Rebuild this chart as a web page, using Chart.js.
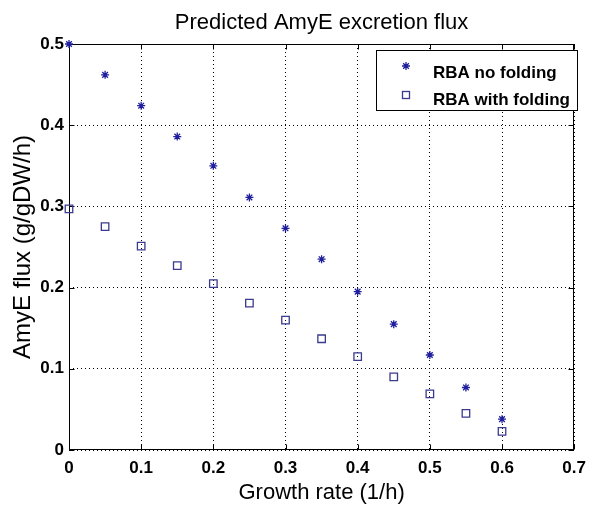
<!DOCTYPE html>
<html>
<head>
<meta charset="utf-8">
<title>Predicted AmyE excretion flux</title>
<script src="https://cdn.jsdelivr.net/npm/chart.js@4.4.1/dist/chart.umd.min.js"></script>
<style>
  html, body { margin: 0; padding: 0; background: #fff; }
  #wrap { width: 594px; height: 507px; }
</style>
</head>
<body>
<div id="wrap"><canvas id="fluxChart" width="594" height="507"></canvas></div>
<script>
const chartTitle = "Predicted AmyE excretion flux";
const xLabel = "Growth rate (1/h)";
const yLabel = "AmyE flux (g/gDW/h)";
const seriesNames = ["RBA no folding", "RBA with folding"];

const growthRate = [0, 0.05, 0.1, 0.15, 0.2, 0.25, 0.3, 0.35, 0.4, 0.45, 0.5, 0.55, 0.6];
const noFolding = [0.5, 0.462, 0.424, 0.386, 0.350, 0.311, 0.273, 0.235, 0.195, 0.155, 0.117, 0.077, 0.038];
const withFolding = [0.297, 0.275, 0.251, 0.227, 0.205, 0.181, 0.160, 0.137, 0.115, 0.090, 0.069, 0.045, 0.023];

const xTicks = [0, 0.1, 0.2, 0.3, 0.4, 0.5, 0.6, 0.7];
const yTicks = [0, 0.1, 0.2, 0.3, 0.4, 0.5];

const FONT = "'Liberation Sans', Arial, Helvetica, sans-serif";
const STAR_COLOR = "#1f1f9e";
const SQUARE_COLOR = "#3a3a8e";

function drawStar(ctx, x, y, r) {
  ctx.beginPath();
  ctx.moveTo(x - r, y); ctx.lineTo(x + r, y);
  ctx.moveTo(x, y - r); ctx.lineTo(x, y + r);
  const d = r * Math.SQRT1_2;
  ctx.moveTo(x - d, y - d); ctx.lineTo(x + d, y + d);
  ctx.moveTo(x - d, y + d); ctx.lineTo(x + d, y - d);
  ctx.stroke();
}

// matlab-like box, inward ticks, title and legend
const matlabBox = {
  id: "matlabBox",
  beforeDatasetsDraw(chart) {
    const { ctx, chartArea: a, scales } = chart;
    const l = Math.round(a.left) + 0.5;
    const t = Math.round(a.top) + 0.5;
    const r = Math.round(a.right) - 0.5;
    const b = Math.round(a.bottom) - 0.5;

    ctx.save();
    ctx.strokeStyle = "#000";
    ctx.lineWidth = 1;
    ctx.strokeRect(l, t, r - l, b - t);

    ctx.beginPath();
    xTicks.forEach(v => {
      const px = Math.round(scales.x.getPixelForValue(v)) + 0.5;
      ctx.moveTo(px, b); ctx.lineTo(px, b - 5);
      ctx.moveTo(px, t); ctx.lineTo(px, t + 5);
    });
    yTicks.forEach(v => {
      const py = Math.round(scales.y.getPixelForValue(v)) + 0.5;
      ctx.moveTo(l, py); ctx.lineTo(l + 5, py);
      ctx.moveTo(r, py); ctx.lineTo(r - 5, py);
    });
    ctx.stroke();

    // title
    ctx.fillStyle = "#000";
    ctx.font = "22px " + FONT;
    ctx.textAlign = "center";
    ctx.textBaseline = "alphabetic";
    ctx.fillText(chartTitle, (a.left + a.right) / 2, 29);
    ctx.restore();
  },
  afterDraw(chart) {
    const { ctx } = chart;
    ctx.save();
    // legend
    const bx = 376.5, by = 50.5, bw = 201, bh = 60;
    ctx.fillStyle = "#fff";
    ctx.fillRect(bx, by, bw, bh);
    ctx.strokeStyle = "#000";
    ctx.lineWidth = 1;
    ctx.strokeRect(bx, by, bw, bh);

    ctx.lineWidth = 1.3;
    ctx.strokeStyle = STAR_COLOR;
    drawStar(ctx, 406, 66, 4);
    ctx.strokeStyle = SQUARE_COLOR;
    ctx.strokeRect(402.5, 91.5, 7, 7);

    ctx.fillStyle = "#000";
    ctx.font = "bold 17px " + FONT;
    ctx.textAlign = "left";
    ctx.textBaseline = "alphabetic";
    ctx.fillText(seriesNames[0], 433, 78);
    ctx.fillText(seriesNames[1], 433, 105);
    ctx.restore();
  }
};

const ctx = document.getElementById("fluxChart").getContext("2d");

new Chart(ctx, {
  type: "scatter",
  data: {
    datasets: [
      {
        label: seriesNames[0],
        data: growthRate.map((x, i) => ({ x: x, y: noFolding[i] })),
        pointStyle: "star",
        pointRadius: 4,
        pointBorderWidth: 1.3,
        borderColor: STAR_COLOR,
        backgroundColor: STAR_COLOR,
        clip: false
      },
      {
        label: seriesNames[1],
        data: growthRate.map((x, i) => ({ x: x, y: withFolding[i] })),
        pointStyle: "rect",
        pointRadius: 5.3,
        pointBorderWidth: 1.3,
        borderColor: SQUARE_COLOR,
        backgroundColor: "rgba(0,0,0,0)",
        clip: false
      }
    ]
  },
  plugins: [matlabBox],
  options: {
    responsive: false,
    animation: false,
    devicePixelRatio: 1,
    layout: { padding: { top: 44, right: 11, left: 0, bottom: 0 } },
    plugins: {
      legend: { display: false },
      title: { display: false },
      tooltip: { enabled: false }
    },
    scales: {
      x: {
        type: "linear",
        min: 0,
        max: 0.7,
        afterBuildTicks: s => { s.ticks = xTicks.map(v => ({ value: v })); },
        afterFit: s => { s.height = 57; },
        grid: { color: "#000", lineWidth: 1, drawTicks: false },
        border: { display: false, dash: [1, 3] },
        ticks: {
          padding: 8,
          color: "#000",
          font: { family: FONT, size: 17, weight: "bold" },
          callback: v => String(v)
        },
        title: {
          display: true,
          text: xLabel,
          color: "#000",
          font: { family: FONT, size: 22 },
          padding: { top: 0, bottom: 1 }
        }
      },
      y: {
        type: "linear",
        min: 0,
        max: 0.5,
        afterBuildTicks: s => { s.ticks = yTicks.map(v => ({ value: v })); },
        afterFit: s => { s.width = 69; },
        grid: { color: "#000", lineWidth: 1, drawTicks: false },
        border: { display: false, dash: [1, 3] },
        ticks: {
          padding: 5,
          color: "#000",
          font: { family: FONT, size: 17, weight: "bold" },
          callback: v => String(v)
        },
        title: {
          display: true,
          text: yLabel,
          color: "#000",
          font: { family: FONT, size: 24 },
          padding: { top: 9, bottom: 0 }
        }
      }
    }
  }
});
</script>
</body>
</html>
